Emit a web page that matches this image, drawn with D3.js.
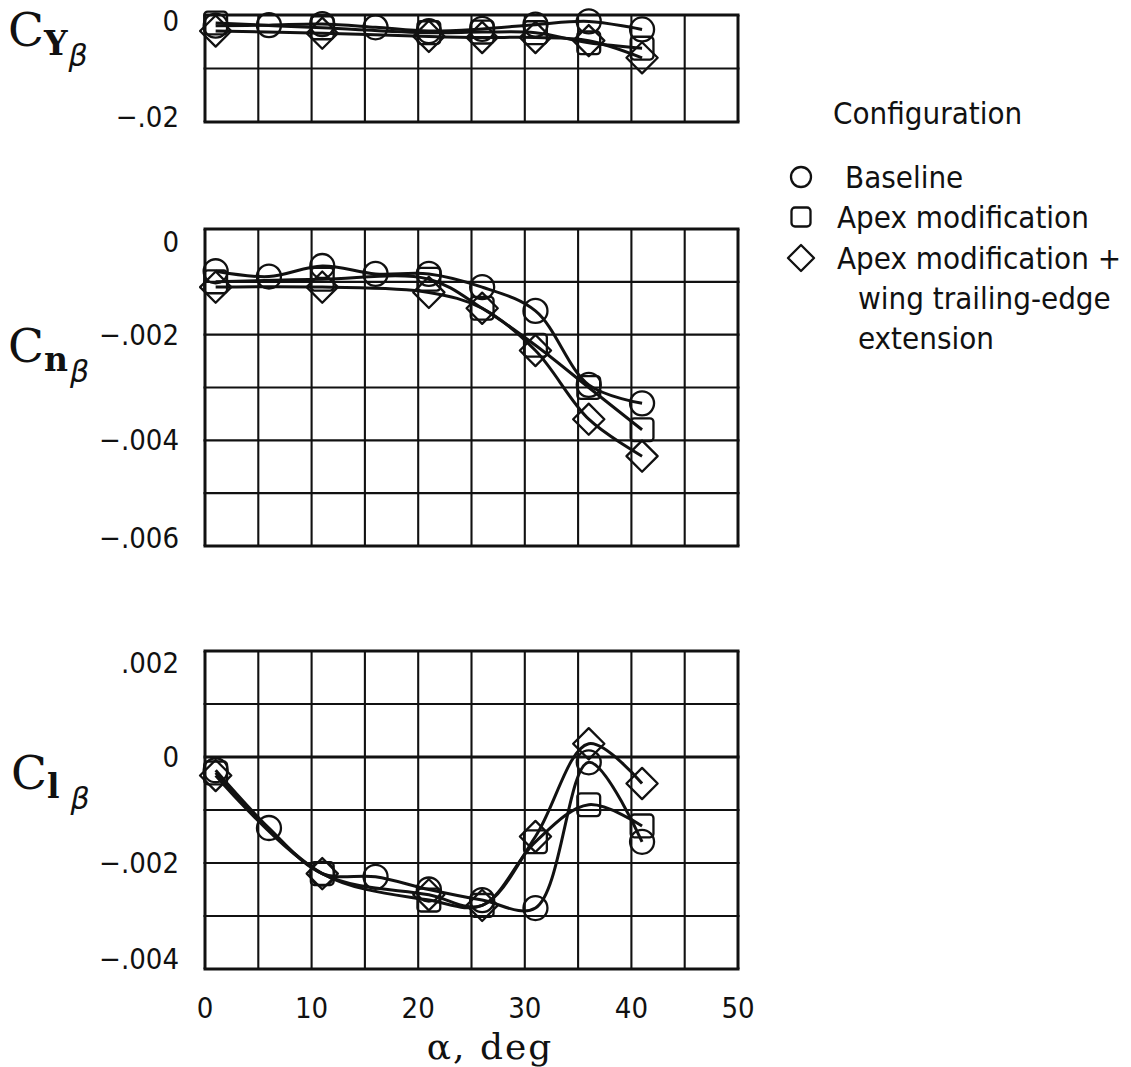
<!DOCTYPE html>
<html>
<head>
<meta charset="utf-8">
<script src="https://cdn.jsdelivr.net/npm/d3@7"></script>
<style>
  body { margin: 0; background: #fff; }
  .tick-lbl { font-family: "Liberation Sans Narrow", "DejaVu Sans Condensed", sans-serif; font-size: 29px; fill: #111; }
  .leg { font-family: "Liberation Sans Narrow", "DejaVu Sans Condensed", sans-serif; font-size: 31px; fill: #111; }
  .ser { font-family: "DejaVu Serif", "Liberation Serif", serif; fill: #111; }
</style>
</head>
<body>
<svg id="chart" width="1131" height="1067"></svg>
<script>
// angle of attack, deg
const alphaBase = [1, 6, 11, 16, 21, 26, 31, 36, 41];
const alphaApex = [1, 11, 21, 26, 31, 36, 41];
const alphaTE = [1, 11, 21, 26, 31, 36, 41];

// side force derivative
const cyBase = [-0.0020, -0.0019, -0.0017, -0.0023, -0.0030, -0.0026, -0.0018, -0.0012, -0.0027];
const cyApex = [-0.0015, -0.0024, -0.0033, -0.0032, -0.0033, -0.0052, -0.0062];
const cyTE = [-0.0030, -0.0034, -0.0040, -0.0042, -0.0042, -0.0048, -0.0080];

// yawing moment derivative
const cnBase = [-0.0008, -0.0009, -0.0007, -0.00085, -0.00085, -0.0011, -0.00155, -0.00295, -0.0033];
const cnApex = [-0.0010, -0.00095, -0.00095, -0.0015, -0.0022, -0.0030, -0.0038];
const cnTE = [-0.0011, -0.0011, -0.0012, -0.0015, -0.0023, -0.0036, -0.0043];

// rolling moment derivative
const clBase = [-0.00025, -0.00134, -0.0022, -0.00226, -0.0025, -0.0027, -0.00285, -0.0001, -0.0016];
const clApex = [-0.0003, -0.0022, -0.0027, -0.0028, -0.0016, -0.0009, -0.0013];
const clTE = [-0.00035, -0.0022, -0.0026, -0.0028, -0.0015, 0.00025, -0.0005];

const xTicks = [0, 10, 20, 30, 40, 50];
const legendLabels = ["Baseline", "Apex modification", "Apex modification +"];
const legendExtra = ["wing trailing-edge", "extension"];

const svg = d3.select("#chart");
svg.append("rect").attr("width", 1131).attr("height", 1067).attr("fill", "#fff");

const x = d3.scaleLinear().domain([0, 50]).range([205, 738]);

const minus = "\u2212";
const fmt3 = d => d === 0 ? "0" : (d < 0 ? minus : "") + d3.format(".3f")(Math.abs(d)).slice(1);

const panels = [
  {dom: [-0.02, 0], rng: [122, 15], grid: d3.range(-0.02, 0.0001, 0.01), labels: [0, -0.02],
   fmt: d => d === 0 ? "0" : minus + ".02", pad: [6, 5], series: [cyBase, cyApex, cyTE]},
  {dom: [-0.006, 0], rng: [546, 229], grid: d3.range(-0.006, 0.00001, 0.001), labels: [0, -0.002, -0.004, -0.006],
   fmt: fmt3, pad: [13, 8], series: [cnBase, cnApex, cnTE]},
  {dom: [-0.004, 0.002], rng: [969, 651], grid: d3.range(-0.004, 0.00201, 0.001), labels: [0.002, 0, -0.002, -0.004],
   fmt: fmt3, pad: [12, 10], series: [clBase, clApex, clTE]}
];

const alphas = [alphaBase, alphaApex, alphaTE];
const shapes = ["circle", "square", "diamond"];

function marker(g, shape, cx, cy, s) {
  if (shape === "circle") {
    g.append("circle").attr("cx", cx).attr("cy", cy).attr("r", s)
      .attr("fill", "none").attr("stroke", "#111").attr("stroke-width", 2.3);
  } else if (shape === "square") {
    g.append("rect").attr("x", cx - s * 0.95).attr("y", cy - s * 0.95)
      .attr("width", s * 1.9).attr("height", s * 1.9).attr("rx", 3.5)
      .attr("fill", "none").attr("stroke", "#111").attr("stroke-width", 2.3);
  } else {
    const d = s * 1.3;
    g.append("path").attr("d", `M${cx},${cy - d}L${cx + d},${cy}L${cx},${cy + d}L${cx - d},${cy}Z`)
      .attr("fill", "none").attr("stroke", "#111").attr("stroke-width", 2.3).attr("stroke-linejoin", "round");
  }
}

panels.forEach(p => {
  const y = d3.scaleLinear().domain(p.dom).range(p.rng);
  const g = svg.append("g");
  const edge = d => Math.abs(d - p.dom[0]) < 1e-9 || Math.abs(d - p.dom[1]) < 1e-9 || Math.abs(d) < 1e-9;

  // grid
  g.selectAll("line.v").data(d3.range(0, 51, 5)).join("line")
    .attr("x1", d => x(d)).attr("x2", d => x(d))
    .attr("y1", p.rng[1]).attr("y2", p.rng[0])
    .attr("stroke", "#111").attr("stroke-width", d => (d === 0 || d === 50) ? 3 : 2.1);
  g.selectAll("line.h").data(p.grid).join("line")
    .attr("x1", x(0) - 1.5).attr("x2", x(50) + 1.5)
    .attr("y1", d => y(d)).attr("y2", d => y(d))
    .attr("stroke", "#111")
    .attr("stroke-width", d => edge(d) ? 3 : 2.1);

  // tick labels, kept inside the box height
  g.selectAll("text.yl").data(p.labels).join("text")
    .attr("class", "tick-lbl")
    .attr("x", 179)
    .attr("y", d => Math.max(p.rng[1] + p.pad[0], Math.min(p.rng[0] - p.pad[1], y(d))) + 10)
    .attr("text-anchor", "end")
    .text(p.fmt);

  // faired curves and symbols
  const line = d3.line().curve(d3.curveCatmullRom.alpha(0.5)).x(d => x(d[0])).y(d => y(d[1]));
  p.series.forEach((vals, i) => {
    const pts = alphas[i].map((a, k) => [a, vals[k]]);
    g.append("path").attr("d", line(pts)).attr("fill", "none")
      .attr("stroke", "#111").attr("stroke-width", 3);
    pts.forEach(pt => marker(g, shapes[i], x(pt[0]), y(pt[1]), 12));
  });
});

// x tick labels
svg.selectAll("text.xl").data(xTicks).join("text")
  .attr("class", "tick-lbl")
  .attr("x", d => x(d)).attr("y", 1018)
  .attr("text-anchor", "middle")
  .text(d => d);

svg.append("text").attr("class", "ser")
  .attr("x", 490).attr("y", 1059).attr("text-anchor", "middle")
  .attr("font-size", 36).attr("letter-spacing", 2).text("\u03b1, deg");

// coefficient labels
function coefLabel(xp, yp, sub, betaDx) {
  const t = svg.append("text").attr("class", "ser").attr("x", xp).attr("y", yp);
  t.append("tspan").attr("font-size", 47).text("C");
  t.append("tspan").attr("font-size", 33).attr("font-weight", "bold").attr("dy", 9).text(sub);
  t.append("tspan").attr("font-size", 30).attr("font-style", "italic")
    .attr("font-family", "DejaVu Sans, sans-serif").attr("dy", 11).attr("dx", betaDx).text("\u03b2");
}
coefLabel(8, 46, "Y", 1);
coefLabel(8, 362, "n", 2);
coefLabel(11, 789, "l", 11);

// legend
svg.append("text").attr("class", "leg").attr("x", 833).attr("y", 124).text("Configuration");
const legY = [177, 217, 258];
legendLabels.forEach((lbl, i) => {
  const gl = svg.append("g");
  marker(gl, shapes[i], 801, legY[i], 10);
  svg.append("text").attr("class", "leg").attr("x", i === 0 ? 845 : 837).attr("y", legY[i] + 11).text(lbl);
});
legendExtra.forEach((lbl, i) => {
  svg.append("text").attr("class", "leg").attr("x", 858).attr("y", 309 + i * 40).text(lbl);
});
</script>
</body>
</html>
